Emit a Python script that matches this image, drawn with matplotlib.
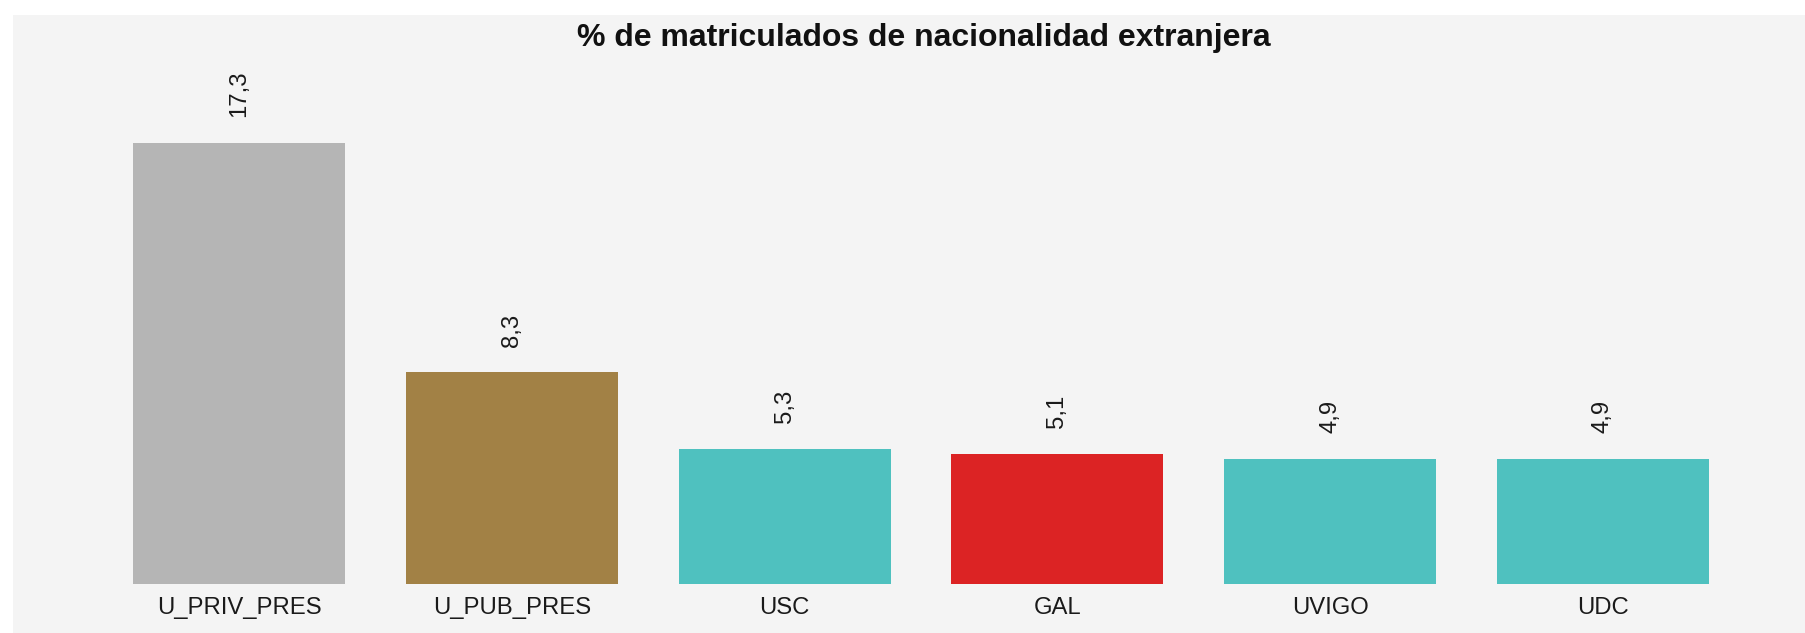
import matplotlib
matplotlib.use("Agg")
import matplotlib.pyplot as plt
from matplotlib.patches import Rectangle

categories = ["U_PRIV_PRES", "U_PUB_PRES", "USC", "GAL", "UVIGO", "UDC"]
values = [17.3, 8.3, 5.3, 5.1, 4.9, 4.9]
bar_colors = ["#b5b5b5", "#a28145", "#4fc1bf", "#dc2324", "#4fc1bf", "#4fc1bf"]
value_labels = [f"{v:.1f}".replace(".", ",") for v in values]
title = "% de matriculados de nacionalidad extranjera"

plt.rcParams['font.family'] = ['Liberation Sans', 'DejaVu Sans']

W, H = 1806, 633
fig = plt.figure(figsize=(W / 100, H / 100), dpi=100)
fig.patch.set_facecolor("white")

# gray panel region (pixels)
left_px, top_px = 13, 15
bg = Rectangle((left_px / W, 0), 1 - left_px / W, 1 - top_px / H,
               transform=fig.transFigure, facecolor="#f4f4f4",
               edgecolor="none", zorder=-10)
fig.add_artist(bg)

base_px, unit_px = 584, 25.49
ax = fig.add_axes([left_px / W, (H - base_px) / H,
                   1 - left_px / W, (base_px - top_px) / H])
ax.set_zorder(5)
ax.set_facecolor("none")

x = list(range(len(categories)))
ax.bar(x, values, width=0.777, color=bar_colors, linewidth=0)

c0, step = 239, 272.8
ax.set_xlim((left_px - c0) / step, (W - c0) / step)
ax.set_ylim(0, (base_px - top_px) / unit_px)

for xi, v, lab in zip(x, values, value_labels):
    ax.annotate(lab, xy=(xi, v), xytext=(0, 18.5), textcoords="offset points",
                rotation=90, ha="center", va="bottom", fontsize=17.2,
                color="#1a1a1a")

ax.set_xticks(x)
ax.set_xticklabels(categories, fontsize=17.2, color="#1a1a1a")
ax.tick_params(axis="x", length=0, pad=9.5)
ax.set_yticks([])
for s in ax.spines.values():
    s.set_visible(False)

fig.text(924 / W, 1 - 46 / H, title, ha="center", va="baseline",
         fontsize=23, fontweight="bold", color="#111111", zorder=10)

fig.savefig("out.png", dpi=100, facecolor=fig.get_facecolor())
